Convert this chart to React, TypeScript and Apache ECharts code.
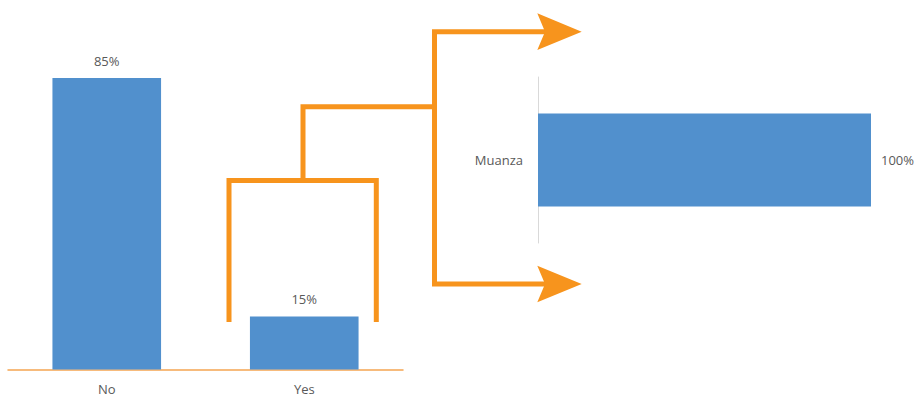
import React, { useEffect, useRef } from "react";
import * as echarts from "echarts";

const leftCategories = ["No", "Yes"];
const leftValues = [84.6, 15.4];
const rightCategories = ["Muanza"];
const rightValues = [100];

const BLUE = "#5190cd";
const ORANGE = "#f7941d";
const TEXT = "#595959";
const FONT = "Open Sans";

export default function App() {
  const ref = useRef<HTMLDivElement>(null);
  useEffect(() => {
    document.body.style.margin = "0";
    const chart = echarts.init(ref.current!, null, { renderer: "svg" });
    const lineStyle = { stroke: ORANGE, lineWidth: 5, fill: null, lineCap: "butt", lineJoin: "miter" };
    chart.setOption({
      animation: false,
      backgroundColor: "#ffffff",
      textStyle: { fontFamily: FONT },
      grid: [
        { left: 8, right: 512, top: 25, bottom: 26.5 },
        { left: 538, right: 44, top: 77, bottom: 153 },
      ],
      xAxis: [
        {
          gridIndex: 0,
          type: "category",
          data: leftCategories,
          axisLine: { show: true, lineStyle: { color: "#f5a552", width: 1.5 } },
          axisTick: { show: false },
          axisLabel: { color: TEXT, fontSize: 13, lineHeight: 14, margin: 12, fontFamily: FONT },
        },
        {
          gridIndex: 1,
          type: "value",
          min: 0,
          max: 100,
          show: false,
        },
      ],
      yAxis: [
        {
          gridIndex: 0,
          type: "value",
          min: 0,
          max: 100,
          show: false,
        },
        {
          gridIndex: 1,
          type: "category",
          data: rightCategories,
          axisLine: { show: true, lineStyle: { color: "#d9d9d9", width: 1 } },
          axisTick: { show: false },
          axisLabel: { color: TEXT, fontSize: 13, margin: 15, fontFamily: FONT },
        },
      ],
      series: [
        {
          type: "bar",
          xAxisIndex: 0,
          yAxisIndex: 0,
          data: leftValues,
          barWidth: "55%",
          itemStyle: { color: BLUE },
          label: {
            show: true,
            position: "top",
            distance: 11,
            color: TEXT,
            fontSize: 13,
            fontFamily: FONT,
            formatter: (p: any) => Math.round(p.value) + "%",
          },
        },
        {
          type: "bar",
          xAxisIndex: 1,
          yAxisIndex: 1,
          data: rightValues,
          barWidth: "56%",
          itemStyle: { color: BLUE },
          label: {
            show: true,
            position: "right",
            distance: 10,
            color: TEXT,
            fontSize: 13,
            fontFamily: FONT,
            formatter: (p: any) => Math.round(p.value) + "%",
          },
        },
      ],
      graphic: [
        {
          type: "polyline",
          shape: { points: [[229, 322], [229, 180.5], [376.3, 180.5], [376.3, 322]] },
          style: lineStyle,
        },
        {
          type: "polyline",
          shape: { points: [[303, 180.5], [303, 106.7], [434.5, 106.7]] },
          style: lineStyle,
        },
        {
          type: "polyline",
          shape: { points: [[546, 31.7], [434.5, 31.7], [434.5, 284], [546, 284]] },
          style: lineStyle,
        },
        {
          type: "polygon",
          shape: { points: [[537.3, 13.3], [581.7, 31.7], [537.3, 50], [545, 31.7]] },
          style: { fill: ORANGE },
        },
        {
          type: "polygon",
          shape: { points: [[537.3, 265.7], [581.7, 284], [537.3, 302.3], [545, 284]] },
          style: { fill: ORANGE },
        },
      ],
    });
    return () => chart.dispose();
  }, []);
  return <div ref={ref} style={{ width: 915, height: 396 }} />;
}
